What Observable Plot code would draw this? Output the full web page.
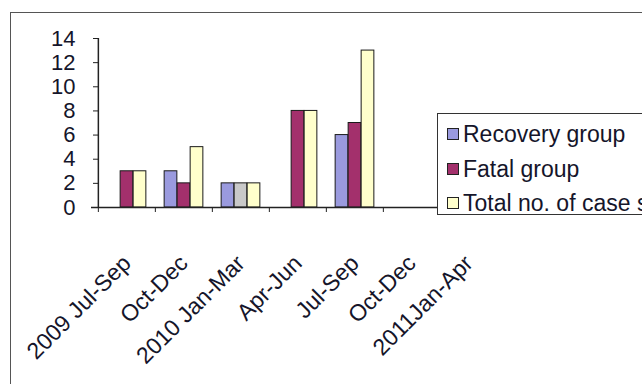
<!DOCTYPE html>
<html>
<head>
<meta charset="utf-8">
<script src="https://cdn.jsdelivr.net/npm/d3@7"></script>
<script src="https://cdn.jsdelivr.net/npm/@observablehq/plot@0.6"></script>
<style>
  html, body { margin: 0; padding: 0; background: #fff; overflow: hidden; width: 642px; height: 384px; }
  #wrap { position: relative; width: 642px; height: 384px; font-family: "Liberation Sans", Arial, sans-serif; }
  #frame { position: absolute; left: 10px; top: 12px; width: 700px; height: 500px; border: 1px solid #555; box-sizing: border-box; }
  #chart { position: absolute; left: 0; top: 0; }
  #legend { position: absolute; left: 437px; top: 113px; width: 260px; height: 102px; border: 1.5px solid #333; background: #fff; box-sizing: border-box; }
  .row { position: absolute; left: 9px; height: 30px; display: flex; align-items: center; font-size: 23px; color: #15152a; white-space: nowrap; }
  .sw { width: 10px; height: 10px; border: 1px solid #222; margin-right: 4px; flex: none; }
</style>
</head>
<body>
<div id="wrap">
  <div id="frame"></div>
  <div id="chart"></div>
  <div id="legend"></div>
</div>
<script>
// Data
const quarters = ["2009 Jul-Sep", "2009 Oct-Dec", "2010 Jan-Mar", "2010 Apr-Jun", "2010 Jul-Sep", "2010 Oct-Dec", "2011 Jan-Apr"];
const tickLabels = ["2009 Jul-Sep", "Oct-Dec", "2010 Jan-Mar", "Apr-Jun", "Jul-Sep", "Oct-Dec", "2011Jan-Apr"];
const recovery = [0, 3, 2, 0, 6, 0, 0];
const fatal    = [3, 2, 2, 8, 7, 0, 0];
const total    = [3, 5, 2, 8, 13, 0, 0];
const seriesNames = ["Recovery group", "Fatal group", "Total no. of case s"];
const yTicks = [0, 2, 4, 6, 8, 10, 12, 14];

const colors = ["#9a9ade", "#a3306c", "#ffffcc"];
const oddFill = "#c9c9c9"; // the 2010 Jan-Mar middle bar appears grey

const W = 642, H = 384;
const mL = 97, mR = 144, mT = 38, mB = 177;
const bw = (W - mL - mR) / quarters.length;
const barW = 13;
const inset = (bw - barW) / 2;

function rows(values) {
  return quarters.map((q, i) => ({q, v: values[i], i})).filter(d => d.v > 0);
}

const barOpts = (k) => ({
  x: "q", y: "v",
  fill: k === 1 ? (d => d.i === 2 ? oddFill : colors[1]) : colors[k],
  stroke: "#1a1a1a", strokeWidth: 1,
  insetLeft: inset, insetRight: inset,
  dx: (k - 1) * barW
});

const plot = Plot.plot({
  width: W, height: H,
  marginLeft: mL, marginRight: mR, marginTop: mT, marginBottom: mB,
  style: { fontFamily: "Liberation Sans, Arial, sans-serif", background: "transparent", color: "#15152a" },
  x: { domain: quarters, paddingInner: 0, paddingOuter: 0, axis: null },
  y: { domain: [0, 14], axis: null },
  marks: [
    Plot.barY(rows(recovery), barOpts(0)),
    Plot.barY(rows(fatal), barOpts(1)),
    Plot.barY(rows(total), barOpts(2)),
    Plot.ruleY([0], { stroke: "#222", strokeWidth: 1.5, insetLeft: -6 }),
    Plot.ruleX([0], { x: () => quarters[0], dx: -bw / 2, y1: 0, y2: 14, stroke: "#222", strokeWidth: 1.5 }),
    Plot.axisY({ ticks: yTicks, tickSize: 6, tickPadding: 18, fontSize: 22, tickFormat: d => String(d), stroke: "#222", label: null, dx: 2 }),
    Plot.axisX({ ticks: quarters, tickSize: 5, tickFormat: () => "", dx: -bw / 2, stroke: "#222", label: null }),
    Plot.text(quarters, {
      x: d => d, y: () => 0,
      text: (d, i) => tickLabels[i],
      rotate: -45, textAnchor: "end",
      dy: 52, dx: 0,
      fontSize: 23, fill: "#15152a"
    })
  ]
});
document.getElementById("chart").appendChild(plot);

// Legend
const legend = document.getElementById("legend");
const tops = [5, 40, 74];
seriesNames.forEach((name, k) => {
  const r = document.createElement("div");
  r.className = "row";
  r.style.top = tops[k] + "px";
  const sw = document.createElement("span");
  sw.className = "sw";
  sw.style.background = colors[k];
  r.appendChild(sw);
  r.appendChild(document.createTextNode(name));
  legend.appendChild(r);
});
</script>
</body>
</html>
